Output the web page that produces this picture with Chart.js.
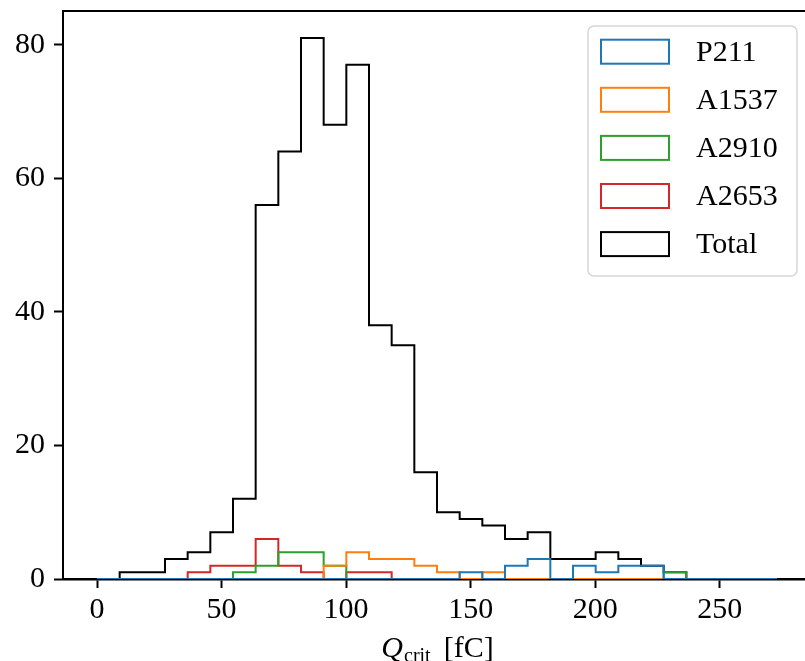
<!DOCTYPE html>
<html>
<head>
<meta charset="utf-8">
<script src="https://cdn.jsdelivr.net/npm/chart.js@4"></script>
<style>
  html, body { margin: 0; padding: 0; background: #fff; overflow: hidden; }
  #wrap { width: 830px; height: 661px; }
</style>
</head>
<body>
<div id="wrap"><canvas id="chart" width="830" height="661"></canvas></div>
<script>
// bin edges, Q_crit in fC (30 bins)
const binEdges = [0, 9.1, 18.2, 27.3, 36.4, 45.5, 54.6, 63.7, 72.8, 81.9, 91, 100.1, 109.2,
  118.3, 127.4, 136.5, 145.6, 154.7, 163.8, 172.9, 182, 191.1, 200.2, 209.3, 218.4, 227.5,
  236.6, 245.7, 254.8, 263.9, 273];

const seriesNames = ["P211", "A1537", "A2910", "A2653", "Total"];
const seriesColors = ["#1f77b4", "#ff7f0e", "#2ca02c", "#d62728", "#000000"];

// counts per bin
const p211  = [0,0,0,0,0,0,0,0,0,0, 0,0,0,0,0,0,1,0,2,3, 0,2,1,2,2,0,0,0,0,0];
const a1537 = [0,0,0,0,0,0,0,0,0,0, 2,4,3,3,2,1,0,1,0,0, 0,0,0,0,0,0,0,0,0,0];
const a2910 = [0,0,0,0,0,0,1,2,4,4, 2,0,0,0,0,0,0,0,0,0, 0,0,0,0,0,1,0,0,0,0];
const a2653 = [0,0,0,0,1,2,2,6,2,1, 0,1,1,0,0,0,0,0,0,0, 0,0,0,0,0,0,0,0,0,0];
const total = [0,1,1,3,4,7,12,56,64,81, 68,77,38,35,16,10,9,8,6,7, 3,3,4,3,2,1,0,0,0,0];

const xTicks = [0, 50, 100, 150, 200, 250];
const yTicks = [0, 20, 40, 60, 80];

const FONT = "'Liberation Serif', 'DejaVu Serif', serif";

// step outline like matplotlib histtype="step"
function toSteps(counts) {
  let pts = [{ x: binEdges[0], y: 0 }];
  counts.forEach((c, i) => pts.push({ x: binEdges[i], y: c }));
  pts.push({ x: binEdges[binEdges.length - 1], y: counts[counts.length - 1] });
  pts.push({ x: binEdges[binEdges.length - 1], y: 0 });
  return pts;
}

const allCounts = [p211, a1537, a2910, a2653, total];

function noPad(s) {
  s.paddingTop = 0;
  s.paddingBottom = 0;
  s.paddingLeft = 0;
  s.paddingRight = 0;
}

// top spine + legend + x title
const extras = {
  id: "extras",
  afterDraw(chart) {
    const ctx = chart.ctx;
    const a = chart.chartArea;
    ctx.save();

    // top / right spine
    ctx.strokeStyle = "#000";
    ctx.lineWidth = 2;
    ctx.beginPath();
    ctx.moveTo(a.left, a.top);
    ctx.lineTo(a.right, a.top);
    ctx.lineTo(a.right, a.bottom);
    ctx.stroke();

    // legend
    let bx = 588, by = 26, bw = 209, bh = 250, r = 6;
    ctx.beginPath();
    ctx.moveTo(bx + r, by);
    ctx.arcTo(bx + bw, by, bx + bw, by + bh, r);
    ctx.arcTo(bx + bw, by + bh, bx, by + bh, r);
    ctx.arcTo(bx, by + bh, bx, by, r);
    ctx.arcTo(bx, by, bx + bw, by, r);
    ctx.closePath();
    ctx.fillStyle = "rgba(255,255,255,0.85)";
    ctx.fill();
    ctx.strokeStyle = "#d6d6d6";
    ctx.lineWidth = 1.5;
    ctx.stroke();

    ctx.font = "30px " + FONT;
    ctx.textBaseline = "middle";
    ctx.textAlign = "left";
    chart.data.datasets.forEach((ds, i) => {
      let cy = 51.7 + 48.1 * i;
      ctx.fillStyle = "#fff";
      ctx.fillRect(601, cy - 12, 68, 24);
      ctx.strokeStyle = ds.borderColor;
      ctx.lineWidth = 2;
      ctx.strokeRect(601, cy - 12, 68, 24);
      ctx.fillStyle = "#000";
      ctx.fillText(ds.label, 696, cy + 1);
    });

    // x axis title: Q_crit [fC]
    ctx.textBaseline = "alphabetic";
    const base = 657;
    ctx.font = "italic 30px " + FONT;
    let wQ = ctx.measureText("Q").width;
    ctx.font = "20px " + FONT;
    let wSub = ctx.measureText("crit").width;
    ctx.font = "30px " + FONT;
    let wRest = ctx.measureText("[fC]").width;
    let gap = 13;
    let x = 437 - (wQ + wSub + gap + wRest) / 2;
    ctx.fillStyle = "#000";
    ctx.font = "italic 30px " + FONT;
    ctx.fillText("Q", x, base);
    x += wQ + 1;
    ctx.font = "20px " + FONT;
    ctx.fillText("crit", x, base + 5);
    x += wSub + gap;
    ctx.font = "30px " + FONT;
    ctx.fillText("[fC]", x, base);

    ctx.restore();
  }
};

new Chart(document.getElementById("chart"), {
  type: "line",
  data: {
    datasets: allCounts.map((c, i) => ({
      label: seriesNames[i],
      data: toSteps(c),
      borderColor: seriesColors[i],
      borderWidth: 2,
      stepped: "before",
      fill: false,
      pointRadius: 0
    }))
  },
  options: {
    responsive: false,
    animation: false,
    layout: { padding: { top: 11, right: 19, left: 0, bottom: 0 } },
    plugins: { legend: { display: false }, tooltip: { enabled: false } },
    scales: {
      x: {
        type: "linear",
        min: -13.65,
        max: 286.65,
        z: 1,
        afterBuildTicks: s => { s.ticks = xTicks.map(v => ({ value: v })); },
        afterFit: s => { s.height = 82; noPad(s); },
        grid: { drawOnChartArea: false, tickLength: 9, color: "#000", tickWidth: 2 },
        border: { color: "#000", width: 2.4 },
        ticks: { font: { family: FONT, size: 30 }, color: "#000", padding: 4, maxRotation: 0 }
      },
      y: {
        min: 0,
        max: 85.05,
        z: 1,
        afterBuildTicks: s => { s.ticks = yTicks.map(v => ({ value: v })); },
        afterFit: s => { s.width = 63; noPad(s); },
        grid: { drawOnChartArea: false, tickLength: 9, color: "#000", tickWidth: 2 },
        border: { color: "#000", width: 2 },
        ticks: { font: { family: FONT, size: 30 }, color: "#000", padding: 9 }
      }
    }
  },
  plugins: [extras]
});
</script>
</body>
</html>
